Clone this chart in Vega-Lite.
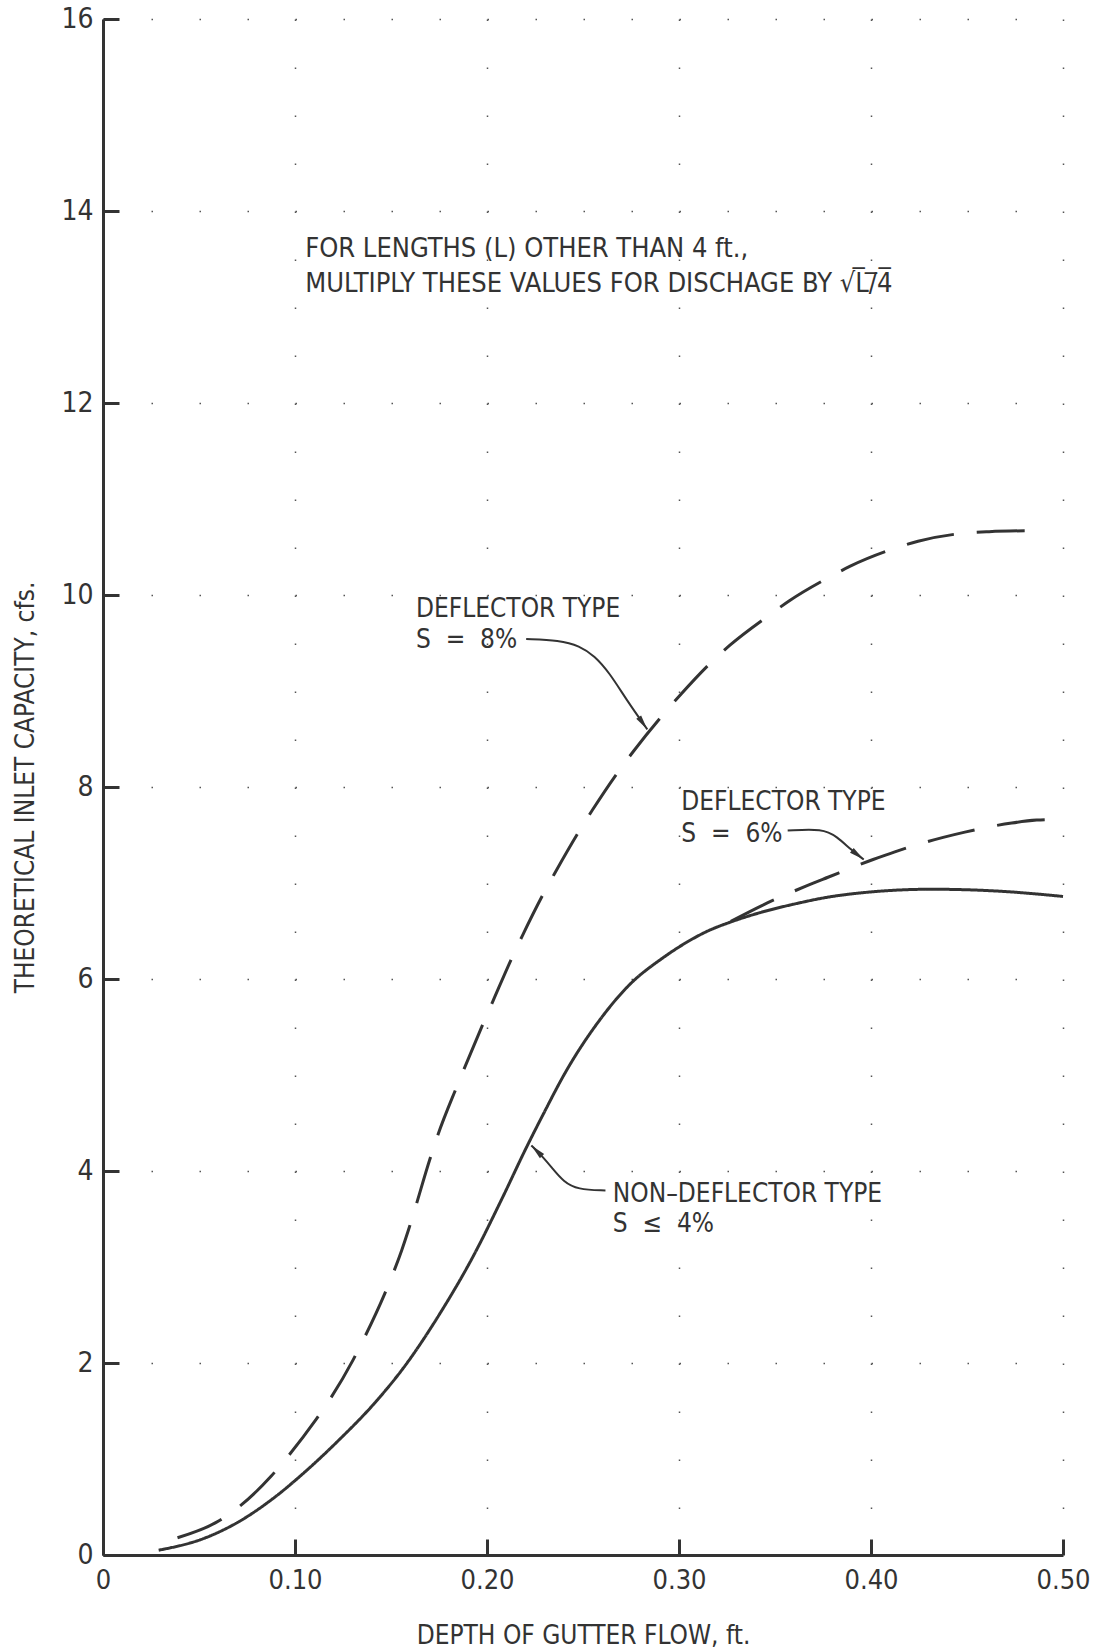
{
  "$schema": "https://vega.github.io/schema/vega-lite/v6.json",
  "width": 960,
  "height": 1536,
  "autosize": {"type": "none"},
  "padding": {"left": 103, "top": 19, "right": 32, "bottom": 93},
  "background": "white",
  "config": {"view": {"stroke": null}, "font": "Liberation Sans Narrow, DejaVu Sans Condensed, sans-serif"},
  "datasets": {
    "curves": [
      {"series": "Non-deflector type, S ≤ 4%", "x": 0.029, "y": 0.05},
      {"series": "Non-deflector type, S ≤ 4%", "x": 0.0535, "y": 0.18},
      {"series": "Non-deflector type, S ≤ 4%", "x": 0.071, "y": 0.35},
      {"series": "Non-deflector type, S ≤ 4%", "x": 0.088, "y": 0.58},
      {"series": "Non-deflector type, S ≤ 4%", "x": 0.106, "y": 0.88},
      {"series": "Non-deflector type, S ≤ 4%", "x": 0.123, "y": 1.2},
      {"series": "Non-deflector type, S ≤ 4%", "x": 0.14, "y": 1.55},
      {"series": "Non-deflector type, S ≤ 4%", "x": 0.158, "y": 1.99},
      {"series": "Non-deflector type, S ≤ 4%", "x": 0.175, "y": 2.5},
      {"series": "Non-deflector type, S ≤ 4%", "x": 0.1925, "y": 3.1},
      {"series": "Non-deflector type, S ≤ 4%", "x": 0.208, "y": 3.72},
      {"series": "Non-deflector type, S ≤ 4%", "x": 0.2204, "y": 4.24},
      {"series": "Non-deflector type, S ≤ 4%", "x": 0.229, "y": 4.58},
      {"series": "Non-deflector type, S ≤ 4%", "x": 0.2412, "y": 5.04},
      {"series": "Non-deflector type, S ≤ 4%", "x": 0.2586, "y": 5.57},
      {"series": "Non-deflector type, S ≤ 4%", "x": 0.2742, "y": 5.94},
      {"series": "Non-deflector type, S ≤ 4%", "x": 0.2916, "y": 6.22},
      {"series": "Non-deflector type, S ≤ 4%", "x": 0.3038, "y": 6.38},
      {"series": "Non-deflector type, S ≤ 4%", "x": 0.315, "y": 6.5},
      {"series": "Non-deflector type, S ≤ 4%", "x": 0.3264, "y": 6.59},
      {"series": "Non-deflector type, S ≤ 4%", "x": 0.342, "y": 6.69},
      {"series": "Non-deflector type, S ≤ 4%", "x": 0.361, "y": 6.785},
      {"series": "Non-deflector type, S ≤ 4%", "x": 0.3768, "y": 6.85},
      {"series": "Non-deflector type, S ≤ 4%", "x": 0.3962, "y": 6.9},
      {"series": "Non-deflector type, S ≤ 4%", "x": 0.4315, "y": 6.935},
      {"series": "Non-deflector type, S ≤ 4%", "x": 0.4667, "y": 6.915},
      {"series": "Non-deflector type, S ≤ 4%", "x": 0.5, "y": 6.86},
      {"series": "Deflector type, S = 8%", "x": 0.0388, "y": 0.18},
      {"series": "Deflector type, S = 8%", "x": 0.0587, "y": 0.337},
      {"series": "Deflector type, S = 8%", "x": 0.0692, "y": 0.477},
      {"series": "Deflector type, S = 8%", "x": 0.0874, "y": 0.817},
      {"series": "Deflector type, S = 8%", "x": 0.0952, "y": 1.0},
      {"series": "Deflector type, S = 8%", "x": 0.1109, "y": 1.41},
      {"series": "Deflector type, S = 8%", "x": 0.1178, "y": 1.61},
      {"series": "Deflector type, S = 8%", "x": 0.1302, "y": 2.03},
      {"series": "Deflector type, S = 8%", "x": 0.1363, "y": 2.27},
      {"series": "Deflector type, S = 8%", "x": 0.1467, "y": 2.72},
      {"series": "Deflector type, S = 8%", "x": 0.1514, "y": 2.95},
      {"series": "Deflector type, S = 8%", "x": 0.1555, "y": 3.17},
      {"series": "Deflector type, S = 8%", "x": 0.159, "y": 3.38},
      {"series": "Deflector type, S = 8%", "x": 0.1624, "y": 3.6},
      {"series": "Deflector type, S = 8%", "x": 0.1702, "y": 4.12},
      {"series": "Deflector type, S = 8%", "x": 0.1745, "y": 4.38},
      {"series": "Deflector type, S = 8%", "x": 0.1841, "y": 4.87},
      {"series": "Deflector type, S = 8%", "x": 0.1884, "y": 5.08},
      {"series": "Deflector type, S = 8%", "x": 0.1983, "y": 5.55},
      {"series": "Deflector type, S = 8%", "x": 0.2031, "y": 5.77},
      {"series": "Deflector type, S = 8%", "x": 0.2132, "y": 6.23},
      {"series": "Deflector type, S = 8%", "x": 0.2184, "y": 6.45},
      {"series": "Deflector type, S = 8%", "x": 0.2297, "y": 6.9},
      {"series": "Deflector type, S = 8%", "x": 0.2358, "y": 7.12},
      {"series": "Deflector type, S = 8%", "x": 0.2483, "y": 7.55},
      {"series": "Deflector type, S = 8%", "x": 0.2549, "y": 7.76},
      {"series": "Deflector type, S = 8%", "x": 0.2691, "y": 8.18},
      {"series": "Deflector type, S = 8%", "x": 0.2766, "y": 8.38},
      {"series": "Deflector type, S = 8%", "x": 0.292, "y": 8.76},
      {"series": "Deflector type, S = 8%", "x": 0.3003, "y": 8.95},
      {"series": "Deflector type, S = 8%", "x": 0.3179, "y": 9.32},
      {"series": "Deflector type, S = 8%", "x": 0.3267, "y": 9.48},
      {"series": "Deflector type, S = 8%", "x": 0.347, "y": 9.79},
      {"series": "Deflector type, S = 8%", "x": 0.3575, "y": 9.94},
      {"series": "Deflector type, S = 8%", "x": 0.3787, "y": 10.19},
      {"series": "Deflector type, S = 8%", "x": 0.3892, "y": 10.3},
      {"series": "Deflector type, S = 8%", "x": 0.413, "y": 10.49},
      {"series": "Deflector type, S = 8%", "x": 0.4245, "y": 10.56},
      {"series": "Deflector type, S = 8%", "x": 0.4491, "y": 10.645},
      {"series": "Deflector type, S = 8%", "x": 0.4615, "y": 10.66},
      {"series": "Deflector type, S = 8%", "x": 0.4835, "y": 10.67},
      {"series": "Deflector type, S = 6%", "x": 0.327, "y": 6.6},
      {"series": "Deflector type, S = 6%", "x": 0.3437, "y": 6.77},
      {"series": "Deflector type, S = 6%", "x": 0.3664, "y": 6.97},
      {"series": "Deflector type, S = 6%", "x": 0.3776, "y": 7.06},
      {"series": "Deflector type, S = 6%", "x": 0.4011, "y": 7.245},
      {"series": "Deflector type, S = 6%", "x": 0.4124, "y": 7.325},
      {"series": "Deflector type, S = 6%", "x": 0.4376, "y": 7.475},
      {"series": "Deflector type, S = 6%", "x": 0.4489, "y": 7.53},
      {"series": "Deflector type, S = 6%", "x": 0.4733, "y": 7.625},
      {"series": "Deflector type, S = 6%", "x": 0.4863, "y": 7.655},
      {"series": "Deflector type, S = 6%", "x": 0.5, "y": 7.665}
    ],
    "leaders": [
      {"leader": "S = 8%", "i": 1, "x": 0.2204, "y": 9.541},
      {"leader": "S = 8%", "i": 2, "x": 0.2377, "y": 9.528},
      {"leader": "S = 8%", "i": 3, "x": 0.2482, "y": 9.471},
      {"leader": "S = 8%", "i": 4, "x": 0.256, "y": 9.366},
      {"leader": "S = 8%", "i": 5, "x": 0.2638, "y": 9.189},
      {"leader": "S = 8%", "i": 6, "x": 0.2727, "y": 8.907},
      {"leader": "S = 8%", "i": 7, "x": 0.2835, "y": 8.6},
      {"leader": "S = 6%", "i": 1, "x": 0.3566, "y": 7.546},
      {"leader": "S = 6%", "i": 2, "x": 0.3749, "y": 7.567},
      {"leader": "S = 6%", "i": 3, "x": 0.3822, "y": 7.484},
      {"leader": "S = 6%", "i": 4, "x": 0.3895, "y": 7.348},
      {"leader": "S = 6%", "i": 5, "x": 0.3962, "y": 7.244},
      {"leader": "S ≤ 4%", "i": 1, "x": 0.2617, "y": 3.797},
      {"leader": "S ≤ 4%", "i": 2, "x": 0.2471, "y": 3.807},
      {"leader": "S ≤ 4%", "i": 3, "x": 0.2398, "y": 3.89},
      {"leader": "S ≤ 4%", "i": 4, "x": 0.2341, "y": 4.026},
      {"leader": "S ≤ 4%", "i": 5, "x": 0.2289, "y": 4.151},
      {"leader": "S ≤ 4%", "i": 6, "x": 0.2231, "y": 4.266}
    ],
    "arrows": [
      {"leader": "S = 8%", "x": 0.2835, "y": 8.6},
      {"leader": "S = 6%", "x": 0.3962, "y": 7.244},
      {"leader": "S ≤ 4%", "x": 0.2231, "y": 4.266}
    ],
    "notes": [
      {"group": "top", "x": 0.1053, "y": 13.525, "text": "FOR LENGTHS (L) OTHER THAN 4 ft.,"},
      {"group": "top", "x": 0.1053, "y": 13.16, "text": "MULTIPLY THESE VALUES FOR DISCHAGE BY √L\u0305/\u03054\u0305"},
      {"group": "curve", "x": 0.163, "y": 9.776, "text": "DEFLECTOR TYPE"},
      {"group": "curve", "x": 0.163, "y": 9.447, "text": "S\u00a0\u00a0=\u00a0\u00a08%"},
      {"group": "curve", "x": 0.3012, "y": 7.76, "text": "DEFLECTOR TYPE"},
      {"group": "curve", "x": 0.3012, "y": 7.43, "text": "S\u00a0\u00a0=\u00a0\u00a06%"},
      {"group": "curve", "x": 0.2655, "y": 3.682, "text": "NON–DEFLECTOR TYPE"},
      {"group": "curve", "x": 0.2655, "y": 3.362, "text": "S\u00a0\u00a0≤\u00a0\u00a04%"}
    ]
  },
  "layer": [
    {
      "data": {"name": "curves"},
      "mark": {"type": "line", "interpolate": "monotone", "strokeWidth": 3, "color": "#333333", "strokeCap": "butt"},
      "encoding": {
        "x": {
          "field": "x", "type": "quantitative",
          "scale": {"domain": [0, 0.5], "nice": false, "zero": false},
          "axis": {
            "values": [0, 0.1, 0.2, 0.3, 0.4, 0.5],
            "labelExpr": "datum.value == 0 ? '0' : format(datum.value, '.2f')",
            "tickSize": -16, "tickWidth": 3, "tickColor": "#333333",
            "domainWidth": 3, "domainColor": "#333333",
            "grid": true, "gridDash": [1.5, 46.5], "gridColor": "#555555", "gridWidth": 1.5,
            "labelFont": "Liberation Sans Narrow, DejaVu Sans Condensed, sans-serif",
            "labelFontSize": 27, "labelColor": "#333333", "labelPadding": 28, "labelBaseline": "top",
            "labelFlush": false, "labelOverlap": false,
            "title": "DEPTH OF GUTTER FLOW, ft.",
            "titleFont": "Liberation Sans Narrow, DejaVu Sans Condensed, sans-serif",
            "titleFontSize": 26, "titleFontWeight": "normal", "titleColor": "#333333",
            "titleY": 88, "titleBaseline": "alphabetic"
          }
        },
        "y": {
          "field": "y", "type": "quantitative",
          "scale": {"domain": [0, 16], "nice": false},
          "axis": {
            "values": [0, 2, 4, 6, 8, 10, 12, 14, 16],
            "format": "d",
            "tickSize": -16, "tickWidth": 3, "tickColor": "#333333",
            "domainWidth": 3, "domainColor": "#333333",
            "grid": true, "gridDash": [1.5, 46.5], "gridColor": "#555555", "gridWidth": 1.5,
            "labelFont": "Liberation Sans Narrow, DejaVu Sans Condensed, sans-serif",
            "labelFontSize": 28, "labelColor": "#333333", "labelPadding": 26,
            "labelFlush": false, "labelOverlap": false,
            "title": "THEORETICAL INLET CAPACITY, cfs.",
            "titleFont": "Liberation Sans Narrow, DejaVu Sans Condensed, sans-serif",
            "titleFontSize": 26, "titleFontWeight": "normal", "titleColor": "#333333",
            "titleX": -70, "titleY": 768, "titleAngle": -90, "titleAlign": "center", "titleBaseline": "alphabetic"
          }
        },
        "detail": {"field": "series"},
        "strokeDash": {
          "field": "series", "type": "nominal",
          "scale": {"domain": ["Non-deflector type, S ≤ 4%", "Deflector type, S = 6%", "Deflector type, S = 8%"], "range": [[1, 0], [48, 23], [48, 23]]},
          "legend": null
        }
      }
    },
    {
      "data": {"name": "leaders"},
      "mark": {"type": "line", "interpolate": "basis", "strokeWidth": 2, "color": "#333333"},
      "encoding": {
        "x": {"field": "x", "type": "quantitative"},
        "y": {"field": "y", "type": "quantitative"},
        "detail": {"field": "leader"},
        "order": {"field": "i"}
      }
    },
    {
      "data": {"name": "arrows"},
      "transform": [{"filter": "datum.leader == 'S = 8%'"}],
      "mark": {"type": "point", "shape": "M0,0L0.4,2L-0.4,2Z", "size": 225, "filled": true, "color": "#333333", "opacity": 1, "angle": 144.9},
      "encoding": {"x": {"field": "x", "type": "quantitative"}, "y": {"field": "y", "type": "quantitative"}}
    },
    {
      "data": {"name": "arrows"},
      "transform": [{"filter": "datum.leader == 'S = 6%'"}],
      "mark": {"type": "point", "shape": "M0,0L0.4,2L-0.4,2Z", "size": 225, "filled": true, "color": "#333333", "opacity": 1, "angle": 127.8},
      "encoding": {"x": {"field": "x", "type": "quantitative"}, "y": {"field": "y", "type": "quantitative"}}
    },
    {
      "data": {"name": "arrows"},
      "transform": [{"filter": "datum.leader == 'S ≤ 4%'"}],
      "mark": {"type": "point", "shape": "M0,0L0.4,2L-0.4,2Z", "size": 225, "filled": true, "color": "#333333", "opacity": 1, "angle": -45.3},
      "encoding": {"x": {"field": "x", "type": "quantitative"}, "y": {"field": "y", "type": "quantitative"}}
    },
    {
      "data": {"name": "notes"},
      "transform": [{"filter": "datum.group == 'top'"}],
      "mark": {"type": "text", "align": "left", "baseline": "alphabetic", "fontSize": 27, "color": "#333333", "font": "Liberation Sans Narrow, DejaVu Sans Condensed, sans-serif"},
      "encoding": {
        "x": {"field": "x", "type": "quantitative"},
        "y": {"field": "y", "type": "quantitative"},
        "text": {"field": "text"}
      }
    },
    {
      "data": {"name": "notes"},
      "transform": [{"filter": "datum.group == 'curve'"}],
      "mark": {"type": "text", "align": "left", "baseline": "alphabetic", "fontSize": 26, "color": "#333333", "font": "Liberation Sans Narrow, DejaVu Sans Condensed, sans-serif"},
      "encoding": {
        "x": {"field": "x", "type": "quantitative"},
        "y": {"field": "y", "type": "quantitative"},
        "text": {"field": "text"}
      }
    }
  ]
}
